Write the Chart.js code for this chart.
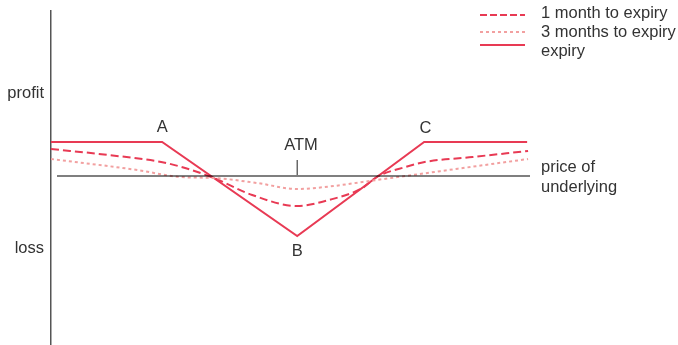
<!DOCTYPE html>
<html>
<head>
<meta charset="utf-8">
<script src="https://cdn.jsdelivr.net/npm/chart.js@4/dist/chart.umd.min.js"></script>
<style>
html,body{margin:0;padding:0;background:#fff;}
#wrap{width:678px;height:345px;position:relative;}
</style>
</head>
<body>
<div id="wrap"><canvas id="c" width="678" height="345"></canvas></div>
<script>
// price axis 0..100, profit/loss in arbitrary units (0 = break-even)
const expiryX = [0, 23.2, 51.4, 77.9, 99.4];
const expiryY = [34, 34, -60, 34, 34];

const month1X = [0, 12, 23, 28, 34, 42, 51.4, 58, 65, 68, 74, 78, 88, 99.6];
const month1Y = [27, 21, 14, 8, -2, -19, -30, -24, -12, -1, 9, 14, 19, 25];

const month3X = [0, 18, 27, 34, 43, 51.4, 59, 65, 74, 86, 99.6];
const month3Y = [17, 6, -1, -2, -7, -13, -10, -6, 0, 8, 17];

const baseX = [1.25, 100];
const baseY = [0, 0];

const atmTickX = [51.4, 51.4];
const atmTickY = [1, 16];

const yTickValues = [83, -72];
const yTickLabels = ['profit', 'loss'];

const legendLabels = ['1 month to expiry', '3 months to expiry', 'expiry'];

const pointLabels = [
  {text: 'A', x: 23.2, y: 49},
  {text: 'B', x: 51.4, y: -75},
  {text: 'C', x: 78.2, y: 48},
  {text: 'ATM', x: 52.2, y: 31}
];

const RED = 'rgb(232,58,84)';
const PINK = 'rgb(242,160,160)';
const FONT = '16.5px "Liberation Sans", Arial, sans-serif';
const TEXT = '#333';

function pts(xs, ys){ return xs.map((x,i)=>({x, y: ys[i]})); }

const overlay = {
  id: 'overlay',
  afterDraw(chart){
    const ctx = chart.ctx;
    const xs = chart.scales.x, ys = chart.scales.y;
    ctx.save();
    ctx.font = FONT;
    ctx.fillStyle = TEXT;
    ctx.textAlign = 'center';
    ctx.textBaseline = 'middle';
    pointLabels.forEach(l => {
      ctx.fillText(l.text, xs.getPixelForValue(l.x), ys.getPixelForValue(l.y));
    });
    // price of underlying label
    ctx.textAlign = 'left';
    const bx = xs.getPixelForValue(100) + 11;
    const by = ys.getPixelForValue(0);
    ctx.fillText('price of', bx, by - 9);
    ctx.fillText('underlying', bx, by + 11);
    // legend
    const styles = [
      {color: RED, dash: [7,3], w: 2},
      {color: PINK, dash: [3,3], w: 2},
      {color: RED, dash: [], w: 2}
    ];
    const lineY = [15, 32, 45];
    const textY = [13, 32, 51];
    styles.forEach((s,i) => {
      ctx.beginPath();
      ctx.strokeStyle = s.color;
      ctx.lineWidth = s.w;
      ctx.setLineDash(s.dash);
      ctx.moveTo(480, lineY[i]);
      ctx.lineTo(525, lineY[i]);
      ctx.stroke();
      ctx.setLineDash([]);
      ctx.fillText(legendLabels[i], 541, textY[i]);
    });
    ctx.restore();
  }
};

new Chart(document.getElementById('c'), {
  type: 'line',
  data: {
    datasets: [
      {label: 'price of underlying', data: pts(baseX, baseY), borderColor: '#000', borderWidth: 1.2, pointRadius: 0},
      {label: 'ATM', data: pts(atmTickX, atmTickY), borderColor: '#444', borderWidth: 1.2, pointRadius: 0},
      {label: legendLabels[1], data: pts(month3X, month3Y), borderColor: PINK, borderWidth: 2, borderDash: [3,3], pointRadius: 0, cubicInterpolationMode: 'monotone'},
      {label: legendLabels[0], data: pts(month1X, month1Y), borderColor: RED, borderWidth: 2, borderDash: [8,4], pointRadius: 0, cubicInterpolationMode: 'monotone'},
      {label: legendLabels[2], data: pts(expiryX, expiryY), borderColor: RED, borderWidth: 2, pointRadius: 0, tension: 0}
    ]
  },
  options: {
    responsive: false,
    animation: false,
    layout: {padding: {left: 0, right: 148, top: 11, bottom: 0}},
    plugins: {legend: {display: false}, tooltip: {enabled: false}},
    scales: {
      x: {type: 'linear', min: 0, max: 100, display: false},
      y: {
        type: 'linear', min: -169, max: 165,
        grid: {display: false, drawTicks: false},
        border: {display: true, color: '#555', width: 1.5},
        afterBuildTicks(axis){ axis.ticks = yTickValues.map(v => ({value: v})); },
        afterFit(axis){ axis.width = 51; axis.paddingTop = 0; axis.paddingBottom = 0; },
        ticks: {
          padding: 7,
          color: TEXT,
          font: {family: '"Liberation Sans", Arial, sans-serif', size: 16.5},
          callback(v){ const i = yTickValues.indexOf(v); return i >= 0 ? yTickLabels[i] : ''; }
        }
      }
    }
  },
  plugins: [overlay]
});
</script>
</body>
</html>
